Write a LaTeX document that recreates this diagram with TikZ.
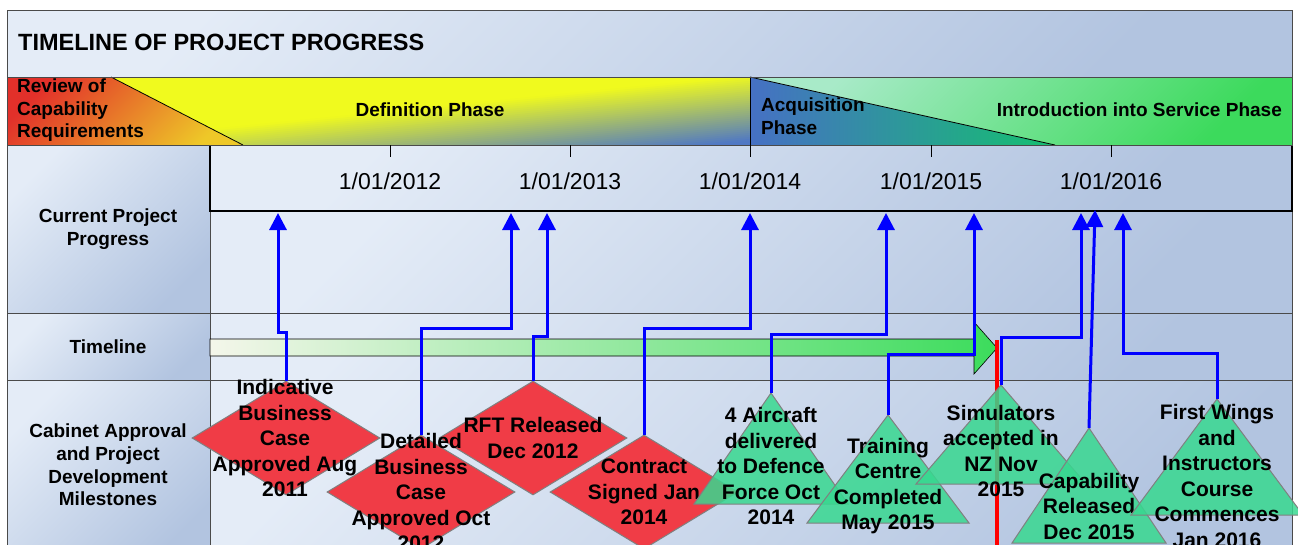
\documentclass[tikz,border=0pt]{standalone}
\usepackage{fontspec}
\setmainfont{Liberation Sans}
\usepackage{xcolor}
\usepackage{tikz}
\usetikzlibrary{shapes,arrows.meta,positioning,calc}

\definecolor{cellA}{HTML}{E4ECF7}
\definecolor{cellB}{HTML}{B2C4E0}
\definecolor{gridgrey}{HTML}{4A4A4A}
\definecolor{revRed}{HTML}{E2302A}
\definecolor{revYel}{HTML}{EEC828}
\definecolor{defYel}{HTML}{F0FA1E}
\definecolor{defBlue}{HTML}{5078C4}
\definecolor{acqBlue}{HTML}{4670C4}
\definecolor{acqGreen}{HTML}{14C070}
\definecolor{intLight}{HTML}{A8EAC8}
\definecolor{intGreen}{HTML}{3CDA5C}
\definecolor{barLight}{HTML}{F4F6EA}
\definecolor{barGreen}{HTML}{3CDC5C}
\definecolor{msRed}{HTML}{F03C46}
\definecolor{msGreen}{HTML}{38D890}
\definecolor{linkBlue}{HTML}{0000FF}

\begin{document}
\begin{tikzpicture}[x=1pt,y=-1pt,
  cell/.style={top color=cellA,bottom color=cellB,shading angle=45,draw=gridgrey,line width=0.8pt},
  lbl/.style={font=\fontsize{19}{22.7}\selectfont\bfseries,align=center,inner sep=0},
  phase/.style={font=\fontsize{19}{22.5}\selectfont\bfseries,inner sep=0},
  ms/.style={font=\fontsize{21}{25.5}\selectfont\bfseries,align=center,inner sep=0},
  yr/.style={font=\fontsize{23}{27}\selectfont,inner sep=0},
  dia/.style={diamond,fill=msRed,draw=gray,line width=1pt,minimum width=188,minimum height=114,inner sep=0},
  tri/.style={fill=msGreen,fill opacity=0.85,draw=gray,line width=1pt},
  link/.style={linkBlue,line width=3pt,-{Triangle[width=17pt,length=17pt]}}]
\useasboundingbox (0,0) rectangle (1298,544);
\clip (0,0) rectangle (1298,544);

% frame cells
\path[cell] (7,10) rectangle (1292,77);
\path[cell] (7,145) rectangle (210,313);
\path[cell] (7,313) rectangle (210,380);
\path[cell] (7,380) rectangle (210,560);
\path[cell] (210,211) rectangle (1292,313);
\path[cell] (210,313) rectangle (1292,380);
\path[cell] (210,380) rectangle (1292,560);
\path[cell,draw=black,line width=2pt] (210,145) rectangle (1292,211);
\node[font=\fontsize{23.5}{28}\selectfont\bfseries,anchor=west,inner sep=0] (title) at (18,42) {TIMELINE OF PROJECT PROGRESS};

% phases
\path[top color=revRed,bottom color=revYel,shading angle=45] (7,77) -- (111,77) -- (243,145) -- (7,145) -- cycle;
\begin{scope}
\clip (111,77) -- (750,77) -- (750,145) -- (243,145) -- cycle;
\fill[defYel] (111,77) rectangle (750,145);
% diagonal blend towards the bottom right corner
\foreach \k in {0,...,32}{
  \pgfmathsetmacro\pct{98.5-3.03*\k}
  \pgfmathsetmacro\cA{150+2*\k}
  \fill[defYel!\pct!defBlue] (111,\cA-11.1) -- (750,\cA-75) -- (750,\cA-72.4) -- (111,\cA-8.5) -- cycle;
}
\fill[defBlue] (111,204.9) -- (750,141) -- (750,160) -- (111,160) -- cycle;
\end{scope}
\path[left color=acqBlue,right color=acqGreen] (750,77) -- (1055,145) -- (750,145) -- cycle;
\path[top color=intLight,bottom color=intGreen,shading angle=45] (750,77) -- (1292,77) -- (1292,145) -- (1055,145) -- cycle;
\draw[line width=0.8pt] (111,77) -- (243,145);
\draw[line width=0.8pt] (750,77) -- (1055,145);
\draw[line width=0.8pt] (750,77) -- (750,145);
\draw[gridgrey,line width=1pt] (7,77) rectangle (1292,145);
\node[phase,anchor=west,align=left] (revT) at (17,110.5) {Review of\\Capability\\Requirements};
\node[phase] (defT) at (430,110) {Definition Phase};
\node[phase,anchor=west,align=left] (acqT) at (761,116) {Acquisition\\Phase};
\node[phase,anchor=east] (intT) at (1282,110) {Introduction into Service Phase};

% axis
\draw[line width=1pt] (390,145) -- (390,157);
\draw[line width=1pt] (570,145) -- (570,157);
\draw[line width=1pt] (750,145) -- (750,157);
\draw[line width=1pt] (931,145) -- (931,157);
\draw[line width=1pt] (1111,145) -- (1111,157);
\node[yr] (y2012) at (390,181) {1/01/2012};
\node[yr] (y2013) at (570,181) {1/01/2013};
\node[yr] (y2014) at (750,181) {1/01/2014};
\node[yr] (y2015) at (931,181) {1/01/2015};
\node[yr] (y2016) at (1111,181) {1/01/2016};

% row labels
\node[lbl] (curLbl) at (108,229) {Current Project\\Progress};
\node[lbl] (tlLbl) at (108,347) {Timeline};
\node[lbl] (cabLbl) at (108,465) {Cabinet Approval\\and Project\\Development\\Milestones};

% timeline bar and today line
\path[left color=barLight,right color=barGreen,draw=black,line width=0.6pt] (210,339) -- (974,339) -- (974,322) -- (997,348) -- (974,374) -- (974,356) -- (210,356) -- cycle;
\coordinate (today) at (997,340);
\draw[red,line width=3.5pt] (today) -- ++(0,220);

% milestones: approvals
\node[dia] (ibc) at (286,438) {};
\node[dia] (dbc) at (421,492) {};
\node[dia] (rft) at (533,438) {};
\node[dia] (con) at (644,492) {};
\node[ms] (ibcT) at (285,438) {Indicative\\Business\\Case\\Approved Aug\\2011};
\node[ms] (dbcT) at (421,492) {Detailed\\Business\\Case\\Approved Oct\\2012};
\node[ms] (rftT) at (533,438) {RFT Released\\Dec 2012};
\node[ms] (conT) at (644,492) {Contract\\Signed Jan\\2014};

% milestones: delivery
\coordinate (air) at (771,393);
\filldraw[tri] (air) -- ++(-77,111) -- ++(154,0) -- cycle;
\node[ms] (airT) at (771,466) {4 Aircraft\\delivered\\to Defence\\Force Oct\\2014};
\coordinate (trn) at (888,415);
\filldraw[tri] (trn) -- ++(-81,108) -- ++(162,0) -- cycle;
\node[ms] (trnT) at (888,486) {Training\\Centre\\Completed\\May 2015};
\coordinate (sim) at (1001,385);
\filldraw[tri] (sim) -- ++(-85,99) -- ++(170,0) -- cycle;
\node[ms] (simT) at (1001,451) {Simulators\\accepted in\\NZ Nov\\2015};
\coordinate (cap) at (1089,428);
\filldraw[tri] (cap) -- ++(-77,115) -- ++(154,0) -- cycle;
\node[ms] (capT) at (1089,506) {Capability\\Released\\Dec 2015};
\coordinate (fwi) at (1217,399);
\filldraw[tri] (fwi) -- ++(-86,116) -- ++(172,0) -- cycle;
\node[ms] (fwiT) at (1217,476) {First Wings\\and\\Instructors\\Course\\Commences\\Jan 2016};

% progress points
\coordinate (pIbc) at (278,213);
\coordinate (pDbc) at (511,213);
\coordinate (pRft) at (547,213);
\coordinate (pCon) at (750,213);
\coordinate (pAir) at (886,213);
\coordinate (pTrn) at (974,213);
\coordinate (pSim) at (1081,213);
\coordinate (pCap) at (1095,210);
\coordinate (pFwi) at (1123,213);
\draw[link] (ibc.north) -- ++(0,-48) -| (pIbc);
\draw[link] (dbc.north) -- ++(0,-106) -| (pDbc);
\draw[link] (rft.north) -- ++(0,-44) -| (pRft);
\draw[link] (con.north) -- ++(0,-106) -| (pCon);
\draw[link] (air) -- ++(0,-59) -| (pAir);
\draw[link] (trn) -- ++(0,-61) -| (pTrn);
\draw[link] (sim) -- ++(0,-48) -| (pSim);
\draw[link] (cap) -- (pCap);
\draw[link] (fwi) -- ++(0,-46) -| (pFwi);
\end{tikzpicture}
\end{document}
